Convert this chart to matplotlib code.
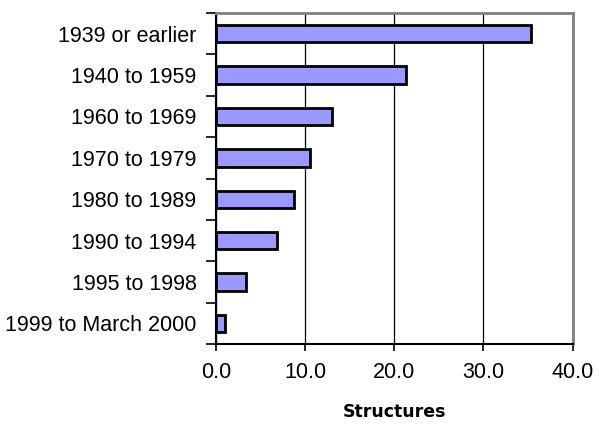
import matplotlib
matplotlib.use("Agg")
import matplotlib.pyplot as plt
import numpy as np

# structures by year built (percent)
periods = ['1939 or earlier', '1940 to 1959', '1960 to 1969', '1970 to 1979',
           '1980 to 1989', '1990 to 1994', '1995 to 1998', '1999 to March 2000']
values = [35.3, 21.3, 13.0, 10.6, 8.7, 6.8, 3.4, 1.0]
xticks = [0, 10, 20, 30, 40]

plt.rcParams['font.family'] = ['Liberation Sans', 'DejaVu Sans']

fig = plt.figure(figsize=(5.99, 4.29), dpi=100)
ax = fig.add_axes([0.3606, 0.1981, 0.5952, 0.7716])

y = np.arange(len(periods))
ax.barh(y, values, height=0.42, color='#9999FF', edgecolor='black', linewidth=2, zorder=3)

ax.set_xlim(0, 40)
ax.set_ylim(len(periods) - 0.5, -0.5)
ax.set_xticks(xticks)
ax.set_xticklabels(['%.1f' % v for v in xticks], fontsize=15.5)
ax.set_yticks(y)
ax.set_yticklabels(periods, fontsize=15.5)
ax.set_yticks(np.arange(-0.5, len(periods)), minor=True)
ax.tick_params(axis='y', which='major', length=0, pad=14)
ax.tick_params(axis='y', which='minor', length=7, width=1.2, direction='out')
ax.tick_params(axis='x', length=5, width=1.2, pad=8)

ax.xaxis.grid(True, color='black', linewidth=0.9, zorder=0)
ax.set_axisbelow(True)

for s in ['top', 'right']:
    ax.spines[s].set_color('#808080')
    ax.spines[s].set_linewidth(2)
for s in ['left', 'bottom']:
    ax.spines[s].set_color('black')
    ax.spines[s].set_linewidth(1.5)

ax.set_xlabel('Structures', fontsize=12.5, fontweight='bold', family='DejaVu Sans', labelpad=14)

fig.savefig('out.png', dpi=100)
